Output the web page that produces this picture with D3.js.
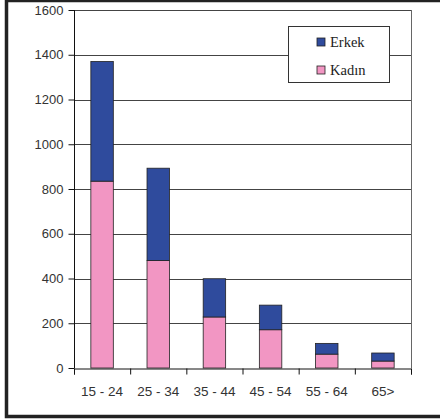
<!DOCTYPE html>
<html>
<head>
<meta charset="utf-8">
<script src="https://cdn.jsdelivr.net/npm/d3@7"></script>
<style>
  body { margin: 0; background: #fff; }
  svg { display: block; }
</style>
</head>
<body>
<svg id="chart" width="440" height="419"></svg>
<script>
var categories = ["15 - 24", "25 - 34", "35 - 44", "45 - 54", "55 - 64", "65>"],
    kadin = [835, 480, 228, 171, 62, 31],
    erkek = [535, 413, 171, 110, 48, 36],
    yTicks = [0, 200, 400, 600, 800, 1000, 1200, 1400, 1600],
    seriesNames = ["Erkek", "Kadın"];

var BLUE = "#2f4b9d",
    PINK = "#f296c3",
    PLOT = { left: 74, right: 411, top: 10, bottom: 368 };

var svg = d3.select("#chart");

// outer frame (right edge cut off in the original)
svg.append("rect")
  .attr("x", 6.5).attr("y", 0.5)
  .attr("width", 440).attr("height", 416)
  .attr("fill", "none")
  .attr("stroke", "#222")
  .attr("stroke-width", 3.5);

var xScale = d3.scaleBand()
  .domain(categories)
  .range([PLOT.left, PLOT.right])
  .paddingInner(0.6)
  .paddingOuter(0.3);

var xEdge = d3.scaleLinear()
  .domain([0, categories.length])
  .range([PLOT.left, PLOT.right]);

var yScale = d3.scaleLinear()
  .domain([0, 1600])
  .range([PLOT.bottom, PLOT.top]);

// gridlines
svg.append("g")
  .selectAll("line")
  .data(yTicks.filter(function(d) { return d > 0; }))
  .enter().append("line")
  .attr("x1", PLOT.left).attr("x2", PLOT.right)
  .attr("y1", function(d) { return Math.round(yScale(d)) + 0.5; })
  .attr("y2", function(d) { return Math.round(yScale(d)) + 0.5; })
  .attr("stroke", "#444");

// right edge of plot area
svg.append("line")
  .attr("x1", PLOT.right + 0.5).attr("x2", PLOT.right + 0.5)
  .attr("y1", PLOT.top).attr("y2", PLOT.bottom)
  .attr("stroke", "#666");

// stacked bars
var stacked = categories.map(function(c, i) {
  return { cat: c, kadin: kadin[i], erkek: erkek[i] };
});
var stack = d3.stack().keys(["kadin", "erkek"])(stacked);
var colors = { kadin: PINK, erkek: BLUE };

svg.append("g")
  .selectAll("g")
  .data(stack)
  .enter().append("g")
  .attr("fill", function(s) { return colors[s.key]; })
  .selectAll("rect")
  .data(function(s) { return s; })
  .enter().append("rect")
  .attr("x", function(d) { return xScale(d.data.cat); })
  .attr("y", function(d) { return yScale(d[1]); })
  .attr("width", xScale.bandwidth())
  .attr("height", function(d) { return yScale(d[0]) - yScale(d[1]); })
  .attr("stroke", "#222")
  .attr("stroke-width", 0.8);

// y axis
var yAxis = d3.axisLeft(yScale).tickValues(yTicks).tickFormat(d3.format("d")).tickSize(6).tickPadding(5);
var gy = svg.append("g")
  .attr("transform", "translate(" + (PLOT.left + 0.5) + ",0)")
  .call(yAxis);
gy.select(".domain").attr("stroke", "#111").attr("d", "M0," + PLOT.top + "V" + PLOT.bottom);
gy.selectAll(".tick line").attr("stroke", "#111");
gy.selectAll("text")
  .attr("font-family", "'Liberation Sans', Arial, sans-serif")
  .attr("font-size", 13)
  .attr("fill", "#333");

// x axis: tick marks on category edges
var gxTicks = svg.append("g")
  .attr("transform", "translate(0," + (PLOT.bottom + 0.5) + ")")
  .call(d3.axisBottom(xEdge).tickValues(d3.range(categories.length + 1)).tickSize(6).tickFormat(""));
gxTicks.selectAll("line, path").attr("stroke", "#111");

// x axis labels
var gx = svg.append("g")
  .attr("transform", "translate(0," + (PLOT.bottom + 0.5) + ")")
  .call(d3.axisBottom(xScale).tickSize(0).tickPadding(18));
gx.select(".domain").remove();
gx.selectAll("text")
  .attr("font-family", "'Liberation Sans', Arial, sans-serif")
  .attr("font-size", 13.5)
  .attr("fill", "#333");

// legend
var legend = svg.append("g");
legend.append("rect")
  .attr("x", 288.5).attr("y", 26.5)
  .attr("width", 101).attr("height", 56)
  .attr("fill", "#fff")
  .attr("stroke", "#333");

var items = legend.selectAll("g.item")
  .data(seriesNames)
  .enter().append("g")
  .attr("class", "item")
  .attr("transform", function(d, i) { return "translate(317," + (38 + i * 28) + ")"; });

items.append("rect")
  .attr("width", 8).attr("height", 8)
  .attr("fill", function(d, i) { return i === 0 ? BLUE : PINK; })
  .attr("stroke", "#222")
  .attr("stroke-width", 0.8);

items.append("text")
  .attr("x", 13).attr("y", 9)
  .attr("font-family", "'Liberation Serif', 'Times New Roman', serif")
  .attr("font-size", 14.5)
  .attr("fill", "#222")
  .text(function(d) { return d; });
</script>
</body>
</html>
